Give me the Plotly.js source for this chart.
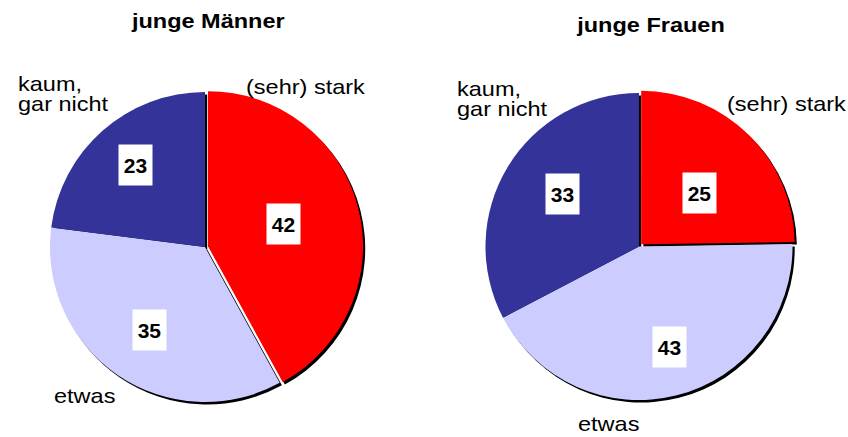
<!DOCTYPE html>
<html>
<head>
<meta charset="utf-8">
<script src="https://cdn.plot.ly/plotly-3.0.1.min.js"></script>
<style>html,body{margin:0;padding:0;background:#fff;}#chart{width:848px;height:437px;}</style>
</head>
<body>
<div id="chart"></div>
<script>
// ---- data ----
const categories = ['(sehr) stark', 'etwas', 'kaum, gar nicht'];
const maennerValues = [42, 35, 23];
const frauenValues = [25, 43, 33];
const groupTitles = ['junge Männer', 'junge Frauen'];
const sliceColors = ['#ff0000', '#ccccff', '#333399'];
const pullValues = [0.02, 0, 0];

// ---- layout helpers ----
const W = 848, H = 437;
const px = x => x / W;
const py = y => 1 - y / H;
const FONT = 'Liberation Sans, Arial, sans-serif';

const domains = [
  {x: [0.0553, 0.4282], y: [0.0730, 0.7966]},
  {x: [0.5689, 0.9382], y: [0.0776, 0.7943]}
];
const shadowShift = {dx: 2.2 / W, dy: -2.5 / H};

function pieTrace(values, dom, colors, isShadow) {
  const d = isShadow
    ? {x: [dom.x[0] + shadowShift.dx, dom.x[1] + shadowShift.dx],
       y: [dom.y[0] + shadowShift.dy, dom.y[1] + shadowShift.dy]}
    : dom;
  return {
    type: 'pie',
    values: values,
    labels: categories,
    sort: false,
    direction: 'clockwise',
    rotation: 0,
    pull: pullValues,
    textinfo: 'none',
    hoverinfo: 'skip',
    showlegend: false,
    marker: {colors: colors, line: {width: 0}},
    domain: d
  };
}

const black = ['#000', '#000', '#000'];
const data = [
  pieTrace(maennerValues, domains[0], black, true),
  pieTrace(frauenValues, domains[1], black, true),
  pieTrace(maennerValues, domains[0], sliceColors, false),
  pieTrace(frauenValues, domains[1], sliceColors, false)
];

const annotations = [];
const stretch = [];
function txt(text, x, y, opts, st) {
  annotations.push(Object.assign({
    text: text, x: px(x), y: py(y), xref: 'paper', yref: 'paper',
    showarrow: false, xanchor: 'left', yanchor: 'middle', align: 'left', borderpad: 0,
    font: {family: FONT, size: 21, color: '#000'}
  }, opts || {}));
  stretch.push(st || null);
}
// titles
txt('<b>' + groupTitles[0] + '</b>', 208, 20.5, {xanchor: 'center', align: 'center'}, 'center');
txt('<b>' + groupTitles[1] + '</b>', 650, 24.5, {xanchor: 'center', align: 'center'}, 'center');

// category labels (the two-word label wraps after the comma)
const kaumText = categories[2].replace(', ', ',<br>');
txt(kaumText, 16.5, 97, null, 'left');
txt(categories[0], 245, 86, null, 'left');
txt(categories[1], 53, 395, null, 'left');
txt(kaumText, 455.5, 102, null, 'left');
txt(categories[0], 725.5, 103, null, 'left');
txt(categories[1], 577, 423, null, 'left');

// value boxes
const boxPos = [
  [[283.5, 224], [149.5, 330], [135.5, 165]],
  [[699.5, 193], [669, 347], [562, 194]]
];
[maennerValues, frauenValues].forEach((vals, g) => {
  vals.forEach((v, i) => {
    txt('<b>' + v + '</b>', boxPos[g][i][0], boxPos[g][i][1], {
      xanchor: 'center', align: 'center', bgcolor: '#ffffff', borderpad: 0, width: 33, height: 40
    }, null);
  });
});

const layout = {
  width: W, height: H,
  margin: {l: 0, r: 0, t: 0, b: 0},
  paper_bgcolor: '#ffffff',
  plot_bgcolor: '#ffffff',
  annotations: annotations,
  showlegend: false
};

Plotly.newPlot('chart', data, layout, {staticPlot: true, displayModeBar: false}).then(gd => {
  gd.querySelectorAll('.annotation').forEach(g => {
    const idx = +g.getAttribute('data-index');
    const st = stretch[idx];
    const t = g.querySelector('.annotation-text');
    if (!t) return;
    // tighter line spacing for wrapped labels
    const lines = t.querySelectorAll('tspan.line');
    lines.forEach((ln, k) => { if (k > 0) ln.setAttribute('dy', '0.93em'); });
    if (st) {
      t.style.transformBox = 'fill-box';
      t.style.transformOrigin = st === 'left' ? 'left center' : 'center center';
      t.style.transform = 'scaleX(1.12)';
    }
  });
});
</script>
</body>
</html>
